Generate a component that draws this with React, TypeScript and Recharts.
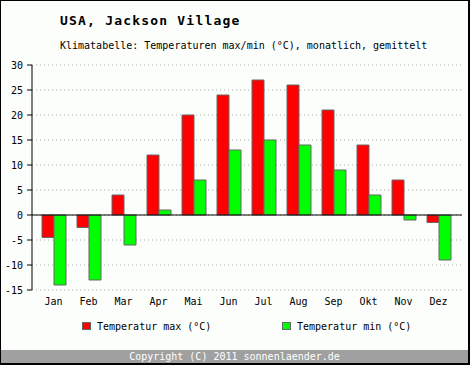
import React from 'react';
import { BarChart, Bar, XAxis, YAxis, CartesianGrid, ReferenceLine } from 'recharts';

const months = ['Jan', 'Feb', 'Mar', 'Apr', 'Mai', 'Jun', 'Jul', 'Aug', 'Sep', 'Okt', 'Nov', 'Dez'];
const tempMax = [-4.5, -2.5, 4, 12, 20, 24, 27, 26, 21, 14, 7, -1.5];
const tempMin = [-14, -13, -6, 1, 7, 13, 15, 14, 9, 4, -1, -9];
const yTicks = [-15, -10, -5, 0, 5, 10, 15, 20, 25, 30];

const data = months.map((m, i) => ({ month: m, max: tempMax[i], min: tempMin[i] }));

const mono = '"DejaVu Sans Mono", "Liberation Mono", monospace';

const legendItems = [
  { x: 82, label: 'Temperatur max (°C)', color: '#ff0000' },
  { x: 282, label: 'Temperatur min (°C)', color: '#00ff00' },
];

export default function App() {
  return (
    <div style={{ position: 'fixed', left: 0, top: 0, width: 470, height: 365, background: '#fcfefc', overflow: 'hidden' }}>
      <div style={{ position: 'absolute', left: 60, top: 13, fontFamily: mono, fontSize: 13, fontWeight: 'bold', letterSpacing: 1.2, whiteSpace: 'pre' }}>
        USA, Jackson Village
      </div>
      <div style={{ position: 'absolute', left: 60, top: 40, fontFamily: mono, fontSize: 10, whiteSpace: 'pre' }}>
        Klimatabelle: Temperaturen max/min (°C), monatlich, gemittelt
      </div>

      <div style={{ position: 'absolute', left: 0, top: 0 }}>
        <BarChart
          width={470}
          height={320}
          data={data}
          margin={{ top: 65, right: 8, bottom: 0, left: 0 }}
          barGap={0}
          barSize={12}
        >
          <CartesianGrid vertical={false} stroke="#aaaaaa" strokeDasharray="1 3" />
          <XAxis
            dataKey="month"
            axisLine={false}
            tickLine={false}
            padding={{ left: 4, right: 6 }}
            height={30}
            tick={{ fontFamily: mono, fontSize: 10, fill: '#000' }}
            tickMargin={2}
          />
          <YAxis
            width={32}
            domain={[-15, 30]}
            ticks={yTicks}
            interval={0}
            axisLine={{ stroke: '#000' }}
            tickLine={{ stroke: '#000' }}
            tickSize={5}
            tickMargin={4}
            tick={{ fontFamily: mono, fontSize: 10, fill: '#000' }}
          />
          <ReferenceLine y={0} stroke="#000" strokeWidth={1} />
          <Bar dataKey="max" name="Temperatur max (°C)" fill="#ff0000" stroke="#666666" strokeWidth={1} isAnimationActive={false} />
          <Bar dataKey="min" name="Temperatur min (°C)" fill="#00ff00" stroke="#666666" strokeWidth={1} isAnimationActive={false} />
        </BarChart>
      </div>

      {legendItems.map((e) => (
        <div key={e.label} style={{ position: 'absolute', left: e.x, top: 319, display: 'flex', alignItems: 'center', fontFamily: mono, fontSize: 10, height: 14 }}>
          <span style={{ width: 7, height: 6, background: e.color, border: '1px solid #666', display: 'inline-block' }} />
          <span style={{ marginLeft: 6, whiteSpace: 'pre' }}>{e.label}</span>
        </div>
      ))}

      <div style={{ position: 'absolute', left: 1, top: 350, width: 467, height: 13, background: '#a0a0a0', color: '#fff', fontFamily: mono, fontSize: 10, textAlign: 'center', lineHeight: '13px' }}>
        Copyright (C) 2011 sonnenlaender.de
      </div>
      <div style={{ position: 'absolute', inset: 0, borderStyle: 'solid', borderColor: '#000', borderWidth: '1px 2px 2px 1px', pointerEvents: 'none' }} />
    </div>
  );
}
